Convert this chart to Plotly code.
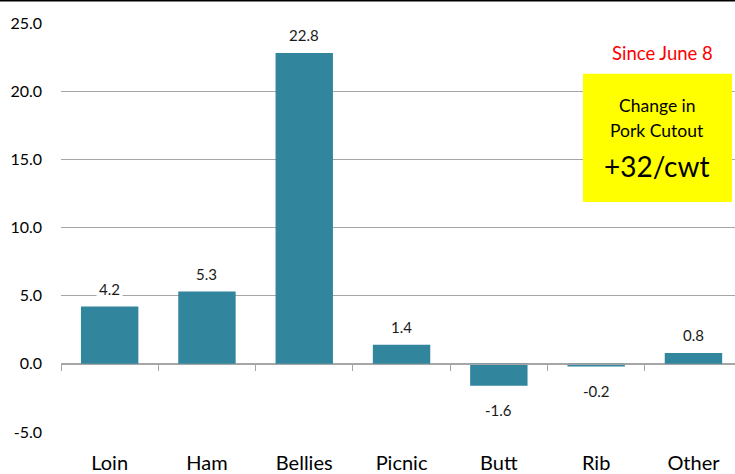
import plotly.graph_objects as go

categories = ["Loin", "Ham", "Bellies", "Picnic", "Butt", "Rib", "Other"]
values = [4.2, 5.3, 22.8, 1.4, -1.6, -0.2, 0.8]
y_ticks = [-5, 0, 5, 10, 15, 20, 25]
y_tick_labels = ["-5.0", "0.0", "5.0", "10.0", "15.0", "20.0", "25.0"]

FONT = "Lato"
BAR = "#31859C"
GRID = "#A6A6A6"

W, H = 735, 474
L, R, T, B = 61, 0, 23, 40
pw, ph = W - L - R, H - T - B
cat_px = 97.3
x_range = [-0.5, -0.5 + pw / cat_px]

fig = go.Figure()
fig.add_trace(go.Bar(x=categories, y=values, marker=dict(color=BAR, line=dict(width=0)),
                     width=0.59, hoverinfo="x+y", xaxis="x", yaxis="y"))
fig.add_trace(go.Scatter(x=categories, y=[0] * len(categories), mode="markers",
                         marker=dict(opacity=0), hoverinfo="skip", xaxis="x2", yaxis="y",
                         showlegend=False))

for c, v in zip(categories, values):
    fig.add_annotation(x=c, y=v, text=f"{v:.1f}", showarrow=False,
                       xref="x", yref="y", xanchor="center",
                       yanchor="bottom" if v >= 0 else "top",
                       yshift=6 if v >= 0 else -12,
                       bgcolor="white", borderpad=2,
                       font=dict(family=FONT, size=15, color="#1a1a1a"))

zero_pos = (0 - y_ticks[0]) / (y_ticks[-1] - y_ticks[0])

fig.update_layout(
    width=W, height=H,
    margin=dict(l=L, r=R, t=T, b=B, pad=0),
    paper_bgcolor="white", plot_bgcolor="white",
    showlegend=False,
    xaxis=dict(type="category", categoryorder="array", categoryarray=categories,
               range=x_range,
               showgrid=False, showline=False, zeroline=False, ticks="",
               ticklabelstandoff=17,
               tickfont=dict(family=FONT, size=20, color="#000000")),
    xaxis2=dict(type="category", categoryorder="array", categoryarray=categories,
                range=x_range,
                overlaying="x", anchor="free", position=zero_pos, side="bottom",
                showgrid=False, showline=True, linecolor=GRID, linewidth=1,
                zeroline=False, ticks="outside", tickson="boundaries", ticklen=6,
                tickcolor=GRID, tickwidth=1, showticklabels=False),
    yaxis=dict(range=[y_ticks[0], y_ticks[-1]], tickvals=y_ticks, ticktext=y_tick_labels,
               showgrid=True, gridcolor=GRID, gridwidth=1,
               zeroline=True, zerolinecolor=GRID, zerolinewidth=1,
               showline=False, ticks="", ticklabelstandoff=18,
               tickfont=dict(family=FONT, size=16, color="#000000")),
)

fig.add_shape(type="line", xref="paper", yref="paper",
              x0=-L / pw, x1=1 + R / pw, y0=1 + (T - 0.5) / ph, y1=1 + (T - 0.5) / ph,
              line=dict(color="black", width=2))

bx0, bx1, by0, by1 = 583, 732, 74, 203
fig.add_shape(type="rect", xref="paper", yref="paper",
              x0=(bx0 - L) / pw, x1=(bx1 - L) / pw,
              y0=1 - (by1 - T) / ph, y1=1 - (by0 - T) / ph,
              fillcolor="#FFFF00", line=dict(width=0), layer="above")

def px(xp):
    return (xp - L) / pw

def py(yp):
    return 1 - (yp - T) / ph

def note(xp, yp, text, size, color):
    fig.add_annotation(x=px(xp), y=py(yp), xref="paper", yref="paper", text=text,
                       xanchor="center", yanchor="middle", showarrow=False,
                       font=dict(family=FONT, size=size, color=color))

note(662, 53, "Since June 8", 18.5, "#FF0000")
note(657, 106, "Change in", 17.5, "#000000")
note(657, 131, "Pork Cutout", 17.5, "#000000")
note(657, 167, "+32/cwt", 28, "#000000")

fig.write_html("out.html")
